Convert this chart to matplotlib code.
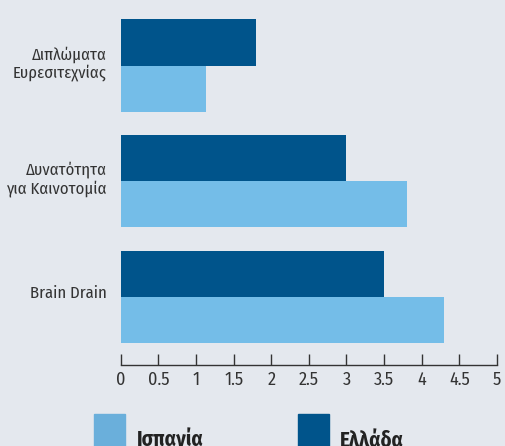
import matplotlib
matplotlib.use('Agg')
import matplotlib.pyplot as plt
from matplotlib.patches import Rectangle
import numpy as np

# indicators (top to bottom) and scores per country
categories = ['Διπλώματα\nΕυρεσιτεχνίας', 'Δυνατότητα\nγια Καινοτομία', 'Brain Drain']
greece = [1.8, 3.0, 3.5]
spain = [1.13, 3.8, 4.3]
xticks = [0, 0.5, 1, 1.5, 2, 2.5, 3, 3.5, 4, 4.5, 5]
xticklabels = ['0', '0.5', '1', '1.5', '2', '2.5', '3', '3.5', '4', '4.5', '5']
series_names = ['Ισπανία', 'Ελλάδα']

BG = '#e4e8ee'
DARK = '#00548b'
LIGHT = '#74bde8'
LEG_LIGHT = '#6aafdb'
TXT = '#333333'
FONT = ['Fira Sans Condensed', 'Roboto Condensed', 'DejaVu Sans']

plt.rcParams['font.family'] = FONT

W, H = 505, 446
fig = plt.figure(figsize=(W / 100, H / 100), dpi=100, facecolor=BG)
ax = fig.add_axes([120.7 / W, 1 - 365 / H, (497 - 120.7) / W, (365 - 10) / H])
ax.set_facecolor(BG)

y = np.arange(len(categories))
bh = 0.4
ax.barh(y - bh / 2, greece, height=bh, color=DARK, label=series_names[1])
ax.barh(y + bh / 2, spain, height=bh, color=LIGHT, label=series_names[0])

ax.set_xlim(0, 5)
ax.set_ylim(2.591, -0.482)

for s in ['top', 'right', 'left']:
    ax.spines[s].set_visible(False)
ax.spines['bottom'].set_color(TXT)
ax.spines['bottom'].set_linewidth(1.0)

ax.set_xticks(xticks)
ax.set_xticklabels(xticklabels)
ax.tick_params(axis='x', direction='in', length=8, width=1.0, color=TXT,
               labelsize=13, labelcolor=TXT, pad=4)
ax.set_yticks(y - 0.04)
ax.set_yticklabels(categories, linespacing=1.1)
ax.tick_params(axis='y', length=0, labelsize=12, labelcolor=TXT, pad=10)
for lab in ax.get_yticklabels():
    lab.set_horizontalalignment('right')
    lab.set_multialignment('right')

# legend boxes drawn by hand below the axis
fig.patches.append(Rectangle((94 / W, 1 - 450 / H), 31 / W, 36 / H,
                             transform=fig.transFigure, color=LEG_LIGHT))
fig.patches.append(Rectangle((298 / W, 1 - 450 / H), 31 / W, 36 / H,
                             transform=fig.transFigure, color=DARK))
fig.text(137 / W, 1 - 447 / H, series_names[0], fontsize=15, fontweight='bold',
         color='#222222', va='baseline', ha='left')
fig.text(340 / W, 1 - 447 / H, series_names[1], fontsize=15, fontweight='bold',
         color='#222222', va='baseline', ha='left')

plt.savefig('out.png', dpi=100, facecolor=BG)
plt.close('all')
